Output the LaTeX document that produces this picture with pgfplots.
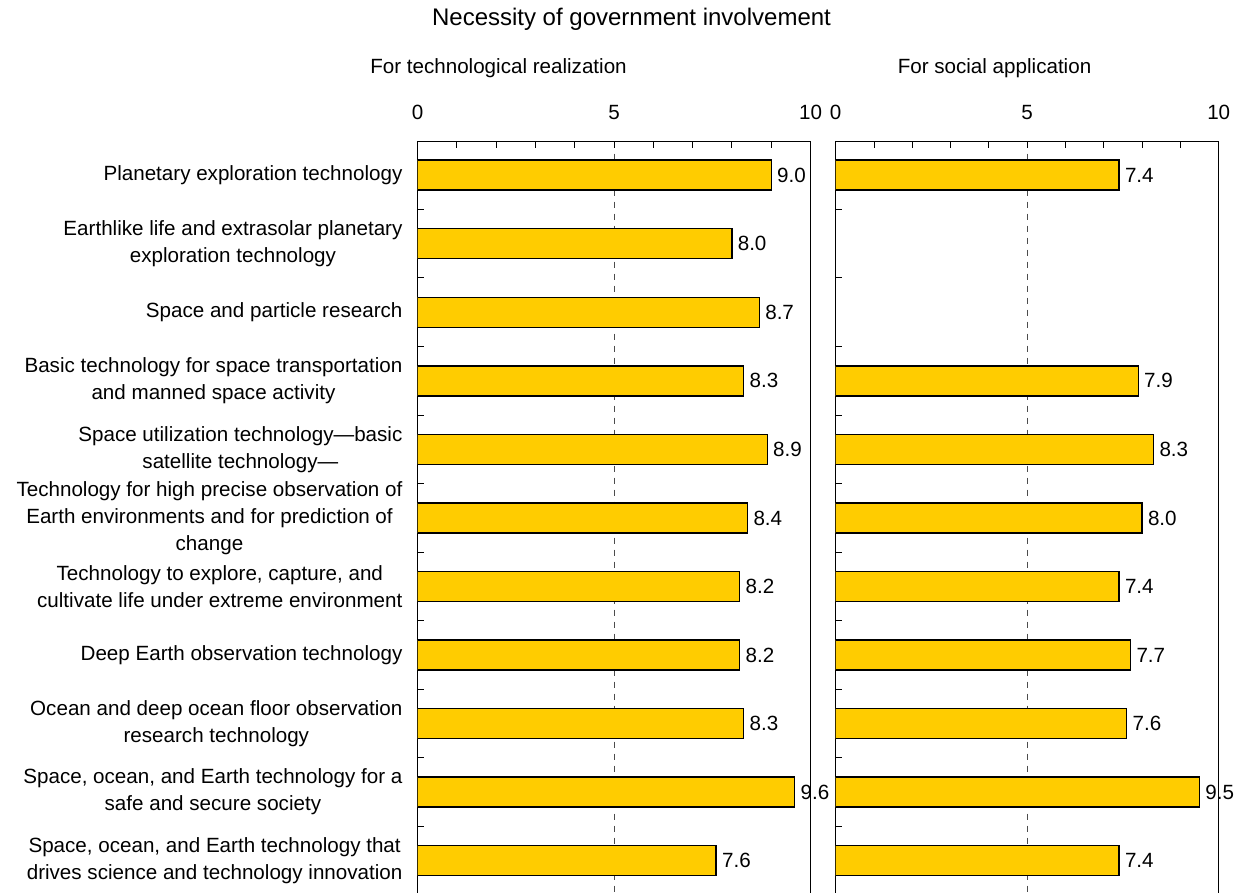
\documentclass[border=0pt]{standalone}
\usepackage{pgfplots}
\pgfplotsset{compat=1.18}
\usepackage{fontspec}
\setmainfont{Liberation Sans}
\definecolor{bargold}{HTML}{FFCC00}
\pgfplotsset{
  panel/.style={
    scale only axis,
    anchor=north west,
    height=378.4pt,
    xmin=0, xmax=10,
    ymin=-0.489, ymax=10.55,
    y dir=reverse,
    xbar,
    bar width=15pt,
    axis line style={line width=0.75pt},
    xtick={0,5,10},
    minor xtick={1,2,3,4,6,7,8,9},
    xtick pos=right,
    xticklabel pos=right,
    xticklabel shift=7.5pt,
    tick align=inside,
    major tick length=3pt,
    minor tick length=3pt,
    tick style={black, line width=0.5pt},
    extra x ticks={5},
    extra x tick labels={},
    extra x tick style={grid=major, major grid style={black!70, dashed, line width=0.5pt}},
    ytick={0.5,1.5,2.5,3.5,4.5,5.5,6.5,7.5,8.5,9.5},
    yticklabels={},
    ytick pos=left,
    /pgf/number format/assume math mode=true,
    ticklabel style={font=\fontsize{10.3}{13.5}\selectfont},
    nodes near coords={\pgfmathprintnumber[fixed,fixed zerofill,precision=1]{\pgfplotspointmeta}},
    nodes near coords align={horizontal},
    point meta=x,
    every node near coord/.append style={font=\fontsize{10.3}{13.5}\selectfont, black, inner sep=2.6pt},
  }
}
\begin{document}
\begin{tikzpicture}
\useasboundingbox (0pt,0pt) rectangle (618.5pt,-446.5pt);
\node[font=\fontsize{12}{14}\selectfont] at (315.75pt,-9.5pt) {Necessity of government involvement};
\node[font=\fontsize{10.3}{13.5}\selectfont] at (249.25pt,-34pt) {For technological realization};
\node[font=\fontsize{10.3}{13.5}\selectfont] at (497.25pt,-34pt) {For social application};

\begin{axis}[panel,
  at={(208.75pt,-70.8pt)},
  width=196.5pt,
  extra y ticks={0,1,2,3,4,5,6,7,8,9,10},
  extra y tick style={major tick length=0pt, yticklabel style={align=center, font=\fontsize{10.3}{13.5}\selectfont, xshift=-4pt}},
  extra y tick labels={
    {Planetary exploration technology},
    {Earthlike life and extrasolar planetary\\exploration technology},
    {Space and particle research},
    {Basic technology for space transportation\\and manned space activity},
    {Space utilization technology—basic\\satellite technology—},
    {Technology for high precise observation of\\Earth environments and for prediction of\\change},
    {Technology to explore, capture, and\\cultivate life under extreme environment},
    {Deep Earth observation technology},
    {Ocean and deep ocean floor observation\\research technology},
    {Space, ocean, and Earth technology for a\\safe and secure society},
    {Space, ocean, and Earth technology that\\drives science and technology innovation}
  },
]
\addplot[fill=bargold, draw=black, line width=0.7pt] coordinates {
  (9.0,0) (8.0,1) (8.7,2) (8.3,3) (8.9,4) (8.4,5) (8.2,6) (8.2,7) (8.3,8) (9.6,9) (7.6,10)
};
\end{axis}

\begin{axis}[panel,
  at={(417.85pt,-70.8pt)},
  width=191.5pt,
]
\addplot[fill=bargold, draw=black, line width=0.7pt] coordinates {
  (7.4,0) (7.9,3) (8.3,4) (8.0,5) (7.4,6) (7.7,7) (7.6,8) (9.5,9) (7.4,10)
};
\end{axis}
\end{tikzpicture}
\end{document}
